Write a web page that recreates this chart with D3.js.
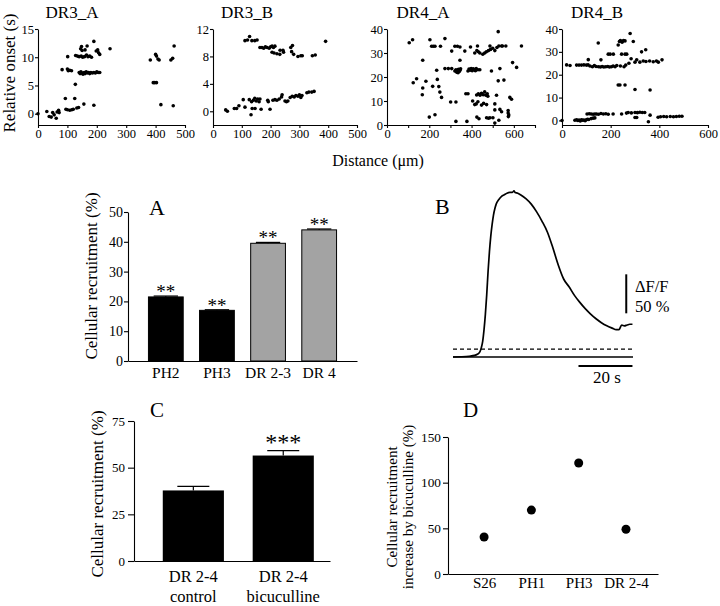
<!DOCTYPE html>
<html><head><meta charset="utf-8">
<script src="https://cdn.jsdelivr.net/npm/d3@7"></script>
<style>
body{margin:0;background:#fff}
svg{display:block}
svg text{font-family:"Liberation Serif","DejaVu Serif","Times New Roman",Times,serif !important;fill:#000}
</style></head>
<body><svg id="chart" width="720" height="606" style="font-family:'Liberation Serif','DejaVu Serif',serif"></svg>
<script>
// ---------------- DATA ----------------
const scatterTitles = ["DR3_A", "DR3_B", "DR4_A", "DR4_B"];
const dr3aPoints = [[0,0],[30,0.4],[38,-0.5],[45,-0.6],[50,0.2],[55,-0.2],[62,-0.8],[65,0.3],[70,0.6],[72,0.2],
[93,2.7],[95,0.8],[100,0.7],[108,0.6],[115,0.7],[120,0.8],[125,2.7],[132,1.0],[138,1.1],[156,1.7],[190,1.5],
[127,5.2],[82,7.8],[100,7.9],[103,7.6],[108,7.7],[114,7.6],
[140,7.3],[143,7.1],[146,7.4],[150,7.2],[153,7.0],[157,7.3],[160,7.1],[164,7.4],[168,7.2],[172,7.3],[176,7.1],[180,7.3],[185,7.2],[190,7.3],[195,7.2],[200,7.4],[205,7.3],[210,7.3],
[101,10.1],[128,10.3],[134,10.2],[140,10.1],[147,10.2],[152,10.0],[158,10.1],[165,10.4],[170,10.1],[176,10.2],[182,10.0],
[145,11.5],[148,11.9],[150,11.2],[160,11.3],[167,12.0],[190,12.8],[198,11.1],[203,11.3],[206,10.8],[210,10.5],[245,11.5],
[382,9.5],[400,10.5],[403,10.2],[408,9.7],[412,9.5],[392,5.5],[397,5.5],[403,5.5],[418,1.6],[452,9.5],[458,9.8],[463,12.0],[460,1.4]];
const dr3bPoints = [[44,0.2],[50,0],[74,0.4],[82,0.4],[90,0.8],[105,1.7],[111,0.6],[126,1.7],[132,-0.5],[136,0.4],[146,0.4],
[134,1.4],[140,1.6],[145,1.9],[150,1.5],[155,1.8],[160,1.4],[163,1.8],[167,0.3],[190,1.6],[192,1.4],[198,0.3],
[208,1.6],[215,1.7],[222,1.6],[230,1.8],[238,2.1],[240,2.4],[250,1.5],[255,1.4],[260,1.5],
[268,2.0],[275,2.2],[282,2.1],[288,2.3],[295,2.2],[300,2.4],[305,2.0],[309,2.3],
[326,2.7],[333,2.8],[343,2.8],[351,2.9],
[111,10.3],[120,10.4],[127,10.9],[135,10.3],[145,10.3],[153,10.4],
[163,9.3],[170,9.3],[176,9.2],[182,9.4],[188,9.3],[195,9.2],[200,9.4],[205,9.5],[210,9.3],[215,9.5],
[205,8.6],[212,8.5],[222,8.4],[232,8.3],[245,8.6],[233,8.9],[243,8.9],
[270,9.3],[276,9.6],[273,8.7],[280,8.3],[295,8.0],[305,8.1],[310,8.1],[345,8.1],[355,8.2],[391,10.2]];
const dr4aPoints = [[105,34.3],[121,35.5],[124,17.6],[140,19.3],[169,27],[169,15.4],[167,12.6],[184,18.2],[200,3.3],[203,35.5],
[211,32.8],[219,32.8],[227,32.8],[216,16.1],[227,4.3],[235,22.8],[238,19],[245,16],[250,13.7],[258,11.5],[253,32.8],[274,36],
[274,23.5],[290,23.5],[306,23.5],[306,30.8],[301,9.6],[326,9.6],[321,32.8],[333,32.8],[345,32.5],
[321,22.5],[326,23],[330,22],[334,22.8],[338,23.2],[342,22.3],[345,22.8],[336,21.8],[348,23.4],
[345,27],[326,1.5],[368,30.8],[373,13],[383,13],[378,1.5],
[383,22.5],[388,23.3],[393,22.8],[398,23.5],[403,22.6],[408,23.4],[413,23],[418,22.6],[422,23.5],[430,23],
[395,32.5],[405,10],[415,8.5],[422,8.8],[430,9.7],[415,30],[425,31],[432,30.5],[439,30],
[424,12.5],[432,13],[440,12.4],[447,13.2],[455,12.6],[462,13.8],[468,12.4],[474,13],[477,12],
[425,3.3],[435,2.6],[428,32.9],[439,23],[447,8.3],[457,9],[471,8.5],
[453,29.5],[462,30],[470,30.5],[480,31],[490,31.5],[500,32],[510,31],[520,32.3],
[471,3],[480,2.8],[487,3],[487,32.9],[494,22.5],[510,8.8],[518,12.4],[501,3],[529,2],[510,6.3],[510,0.8],
[529,32.9],[542,32.9],[534,23.5],[526,18.4],[534,6.5],[542,5.5],[526,38.9],[546,32.9],[562,32.9],[553,18.7],
[573,5],[574,3.5],[576,4.2],[573,6],[581,11.5],[589,10.7],[594,26],[613,24],[636,32.9]];
const dr4bPoints = [[0,0],[19,24.3],[33,24],[60,24.2],[70,24.2],[80,24.2],[90,24.3],[100,24.2],[108,26.6],[107,24.3],
[115,23.8],[125,23.5],[133,24],[140,23.6],[150,23.5],[158,23.4],[165,23.6],[172,23.4],[180,23.5],[188,23.6],[195,23.4],[203,23.5],[210,23.8],[218,23.5],[225,24],[240,23.8],[255,23.5],[262,24.2],
[149,33.9],[160,26.5],[190,29],[198,29],[211,29],[231,33],[236,34.5],[240,35],[247,34.2],[253,35],[259,34.8],
[231,15.5],[238,15.5],[259,15.5],[245,29],[259,29],[266,29],[280,38],[284,27],[293,34.5],
[275,25],[300,25.5],[307,26.5],[300,13.5],[327,30],[344,30.9],
[320,25.5],[334,26],[345,25.8],[360,26],[375,25.7],[388,26],[396,25.5],[411,26.5],[362,13.3],
[53,0.1],[60,0.3],[65,0],[70,0.2],[75,-0.2],[80,0.3],[85,0.1],[90,0.2],[95,-0.1],[100,0.3],[105,0.5],[110,0.4],[120,0.8],[128,1],[135,1.1],
[103,2.8],[112,2.9],[120,2.8],[128,2.7],[135,2.8],[142,2.8],[150,2.7],[160,3],[170,2.8],[180,2.9],[190,2.7],[210,2.8],[245,2.8],
[265,3.2],[272,3.5],[285,3.3],[300,3.5],[310,3.4],[320,3.6],[330,3.5],[340,3.5],
[300,1.3],[307,1.3],[362,2.3],[355,-0.6],
[395,1.4],[405,1.6],[418,1.7],[430,1.6],[445,1.7],[458,1.6],[470,1.7],[482,1.8],[493,1.8]];
const dr3XTicks = [0,100,200,300,400,500];
const dr4aXTicks = [0,100,200,300,400,500,600,700];
const dr4bXTicks = [0,200,400,600];
const dr4XLabels = [0,200,400,600];
const dr3aYTicks = [0,5,10,15];
const dr3bYTicks = [0,4,8,12];
const dr4YTicks = [0,10,20,30,40];

// Panel A
const catA = ["PH2", "PH3", "DR 2-3", "DR 4"];
const valA = [21.5, 17.0, 39.5, 44.0];
const errA = [0.3, 0.2, 0.3, 0.3];
const sigA = ["**", "**", "**", "**"];
const groupA = ["black", "black", "gray", "gray"];
const yTicksA = [0,10,20,30,40,50];

// Panel B trace (time s, ΔF/F %)
const traceTime = [0,3,6,8,9,10,10.5,11,11.5,12,12.5,13,13.5,14,14.5,15,15.5,16,17,18,19,20,21,22,22.6,23,24,25,27,29,31,33,35,37,39,41,43,45,47,49,51,53,55,57,59,60.5,61.5,62.5,63.5,64.5,65.5,66.5];
const traceDF = [0,0.3,1,2,3.5,7,12,20,35,55,80,110,135,155,170,182,190,196,202,206,208,210,211,211,213,211,210,208,203,196,186,174,160,140,118,100,90,79,70,62,55,49,44,40,37,35,35,41,40,41,42,42];
const thresholdDF = 10;

// Panel C
const catC = [["DR 2-4", "control"], ["DR 2-4", "bicuculline"]];
const valC = [37.8, 56.5];
const errC = [2.2, 2.6];
const sigC = ["", "***"];
const yTicksC = [0,25,50,75];

// Panel D
const catD = ["S26", "PH1", "PH3", "DR 2-4"];
const valD = [40.5, 70, 121.5, 49];
const yTicksD = [0,50,100,150];

// ---------------- DRAW ----------------
const SERIF = "'Liberation Serif','DejaVu Serif','Times New Roman',serif";
const svg = d3.select("#chart");
function styleAxis(sel, fs) {
  sel.attr("font-size", fs).attr("font-family", SERIF);
  sel.select(".domain").attr("stroke", "#000").attr("stroke-width", 1.1);
  sel.selectAll(".tick line").attr("stroke", "#000").attr("stroke-width", 1.1);
  sel.selectAll("text").attr("fill", "#000").style("font-family", SERIF);
}
function txt(g, fs) {
  return g.append("text").attr("font-size", fs).style("font-family", SERIF);
}

// --- top scatter panels
const scatterCfg = [
  {pts: dr3aPoints, xDomain:[0,500], xRange:[38,185], yDomain:[-2,15], xTicks: dr3XTicks, xLabels: dr3XTicks, yTicks: dr3aYTicks, titleX: 72},
  {pts: dr3bPoints, xDomain:[0,500], xRange:[213,357], yDomain:[-2,12], xTicks: dr3XTicks, xLabels: dr3XTicks, yTicks: dr3bYTicks, titleX: 247},
  {pts: dr4aPoints, xDomain:[0,700], xRange:[387,535], yDomain:[0,40], xTicks: dr4aXTicks, xLabels: dr4XLabels, yTicks: dr4YTicks, titleX: 423},
  {pts: dr4bPoints, xDomain:[0,600], xRange:[562,708], yDomain:[-2,40], xTicks: dr4bXTicks, xLabels: dr4XLabels, yTicks: dr4YTicks, titleX: 597}
];
scatterCfg.forEach((p, i) => {
  const x = d3.scaleLinear().domain(p.xDomain).range(p.xRange);
  const y = d3.scaleLinear().domain(p.yDomain).range([125, 29]);
  const g = svg.append("g");
  g.append("g").attr("transform", "translate(0,125)")
    .call(d3.axisBottom(x).tickValues(p.xTicks).tickFormat(d => p.xLabels.includes(d) ? d : "").tickSize(3).tickSizeOuter(0).tickPadding(1))
    .call(styleAxis, 12.5);
  g.append("g").attr("transform", `translate(${p.xRange[0]},0)`)
    .call(d3.axisLeft(y).tickValues(p.yTicks).tickSize(3).tickSizeOuter(0).tickPadding(1))
    .call(styleAxis, 12.5);
  g.selectAll("circle").data(p.pts).join("circle")
    .attr("cx", d => x(d[0])).attr("cy", d => y(d[1])).attr("r", 1.8).attr("fill", "#000");
  txt(g, 17).attr("x", p.titleX).attr("y", 18).attr("text-anchor", "middle").text(scatterTitles[i]);
});
txt(svg, 17).attr("transform", "translate(15,73) rotate(-90)").attr("text-anchor", "middle").text("Relative onset (s)");
txt(svg, 16).attr("x", 378).attr("y", 166).attr("text-anchor", "middle").text("Distance (\u03bcm)");

// --- Panel A
{
  const x = d3.scaleBand().domain(catA).range([128, 357]).paddingInner(0.32).paddingOuter(0.4);
  const y = d3.scaleLinear().domain([0, 50]).range([361, 212]);
  const g = svg.append("g");
  g.selectAll("rect").data(catA).join("rect")
    .attr("x", d => x(d)).attr("y", (d, i) => y(valA[i]))
    .attr("width", x.bandwidth()).attr("height", (d, i) => y(0) - y(valA[i]))
    .attr("fill", (d, i) => groupA[i] === "black" ? "#000" : "#a3a3a3")
    .attr("stroke", "#000").attr("stroke-width", 1);
  catA.forEach((c, i) => {
    const cx = x(c) + x.bandwidth() / 2, top = y(valA[i] + errA[i]);
    g.append("line").attr("x1", cx - x.bandwidth() * 0.35).attr("x2", cx + x.bandwidth() * 0.35)
      .attr("y1", top).attr("y2", top).attr("stroke", "#000").attr("stroke-width", 1.2);
    g.append("line").attr("x1", cx).attr("x2", cx).attr("y1", top).attr("y2", y(valA[i])).attr("stroke", "#000");
    txt(g, 19).attr("x", cx).attr("y", top + 2).attr("text-anchor", "middle").text(sigA[i]);
  });
  g.append("g").attr("transform", "translate(0,361)")
    .call(d3.axisBottom(x).tickSize(0).tickPadding(5.5)).call(styleAxis, 15.5);
  g.append("g").attr("transform", "translate(128,0)")
    .call(d3.axisLeft(y).tickValues(yTicksA).tickSize(4).tickSizeOuter(0).tickPadding(1)).call(styleAxis, 14);
  txt(g, 17).attr("transform", "translate(97,276) rotate(-90)").attr("text-anchor", "middle").text("Cellular recruitment (%)");
  txt(g, 22).attr("x", 149).attr("y", 215).text("A");
}

// --- Panel B
{
  const x = d3.scaleLinear().domain([0, 66.7]).range([453, 633]);
  const y = d3.scaleLinear().domain([0, 100]).range([357, 279]);
  const g = svg.append("g");
  g.append("line").attr("x1", x(0)).attr("x2", x(66.7)).attr("y1", y(0)).attr("y2", y(0))
    .attr("stroke", "#000").attr("stroke-width", 1.4);
  g.append("line").attr("x1", x(0)).attr("x2", x(66.7)).attr("y1", y(thresholdDF)).attr("y2", y(thresholdDF))
    .attr("stroke", "#000").attr("stroke-width", 1.2).attr("stroke-dasharray", "4,3");
  const line = d3.line().x((d, i) => x(traceTime[i])).y(d => y(d)).curve(d3.curveMonotoneX);
  g.append("path").datum(traceDF).attr("d", line).attr("fill", "none")
    .attr("stroke", "#000").attr("stroke-width", 1.7);
  // scale bars: 50 % ΔF/F and 20 s
  g.append("line").attr("x1", x(64.2)).attr("x2", x(64.2)).attr("y1", y(56)).attr("y2", y(106))
    .attr("stroke", "#000").attr("stroke-width", 2);
  g.append("line").attr("x1", x(46.5)).attr("x2", x(66.5)).attr("y1", y(-11.5)).attr("y2", y(-11.5))
    .attr("stroke", "#000").attr("stroke-width", 2);
  txt(g, 16.5).attr("x", 635).attr("y", 292).text("\u0394F/F");
  txt(g, 16.5).attr("x", 635).attr("y", 312).text("50 %");
  txt(g, 17).attr("x", 607).attr("y", 383).attr("text-anchor", "middle").text("20 s");
  txt(g, 22).attr("x", 435).attr("y", 214).text("B");
}

// --- Panel C
{
  const x = d3.scaleBand().domain(catC.map(d => d[1])).range([134, 330]).paddingInner(0.32).paddingOuter(0.25).align(0.64);
  const y = d3.scaleLinear().domain([0, 75]).range([561, 421]);
  const g = svg.append("g");
  catC.forEach((c, i) => {
    const bx = x(c[1]), bw = x.bandwidth(), cx = bx + bw / 2, top = y(valC[i] + errC[i]);
    g.append("line").attr("x1", cx).attr("x2", cx).attr("y1", top).attr("y2", y(valC[i])).attr("stroke", "#000").attr("stroke-width", 1.2);
    g.append("line").attr("x1", cx - 16).attr("x2", cx + 16).attr("y1", top).attr("y2", top).attr("stroke", "#000").attr("stroke-width", 1.2);
    g.append("rect").attr("x", bx).attr("y", y(valC[i])).attr("width", bw).attr("height", y(0) - y(valC[i])).attr("fill", "#000");
    if (sigC[i]) txt(g, 24).attr("x", cx).attr("y", top - 1).attr("text-anchor", "middle").text(sigC[i]);
    txt(g, 16.5).attr("x", cx).attr("y", 582).attr("text-anchor", "middle").text(c[0]);
    txt(g, 16.5).attr("x", cx).attr("y", 602).attr("text-anchor", "middle").text(c[1]);
  });
  g.append("g").attr("transform", "translate(0,561)")
    .call(d3.axisBottom(x).tickSize(0).tickFormat("")).call(styleAxis, 15);
  g.append("g").attr("transform", "translate(134,0)")
    .call(d3.axisLeft(y).tickValues(yTicksC).tickSize(6).tickSizeOuter(0).tickPadding(3)).call(styleAxis, 13);
  txt(g, 17).attr("transform", "translate(103,494) rotate(-90)").attr("text-anchor", "middle").text("Cellular recruitment (%)");
  txt(g, 21).attr("x", 150).attr("y", 417).text("C");
}

// --- Panel D
{
  const x = d3.scalePoint().domain(catD).range([448, 658]).padding(0.72).align(0.53);
  const y = d3.scaleLinear().domain([0, 150]).range([574, 437]);
  const g = svg.append("g");
  g.append("g").attr("transform", "translate(0,574)")
    .call(d3.axisBottom(x).tickSize(0).tickPadding(3.5)).call(styleAxis, 15);
  g.append("g").attr("transform", "translate(448,0)")
    .call(d3.axisLeft(y).tickValues(yTicksD).tickSize(5).tickSizeOuter(0).tickPadding(2)).call(styleAxis, 13.3);
  g.selectAll("circle").data(catD).join("circle")
    .attr("cx", d => x(d)).attr("cy", (d, i) => y(valD[i])).attr("r", 4.5).attr("fill", "#000");
  txt(g, 15).attr("transform", "translate(397,507) rotate(-90)").attr("text-anchor", "middle").text("Cellular recruitment");
  txt(g, 15).attr("transform", "translate(413,507) rotate(-90)").attr("text-anchor", "middle").text("increase by bicuculline (%)");
  txt(g, 21).attr("x", 463).attr("y", 417).text("D");
}
</script></body></html>
